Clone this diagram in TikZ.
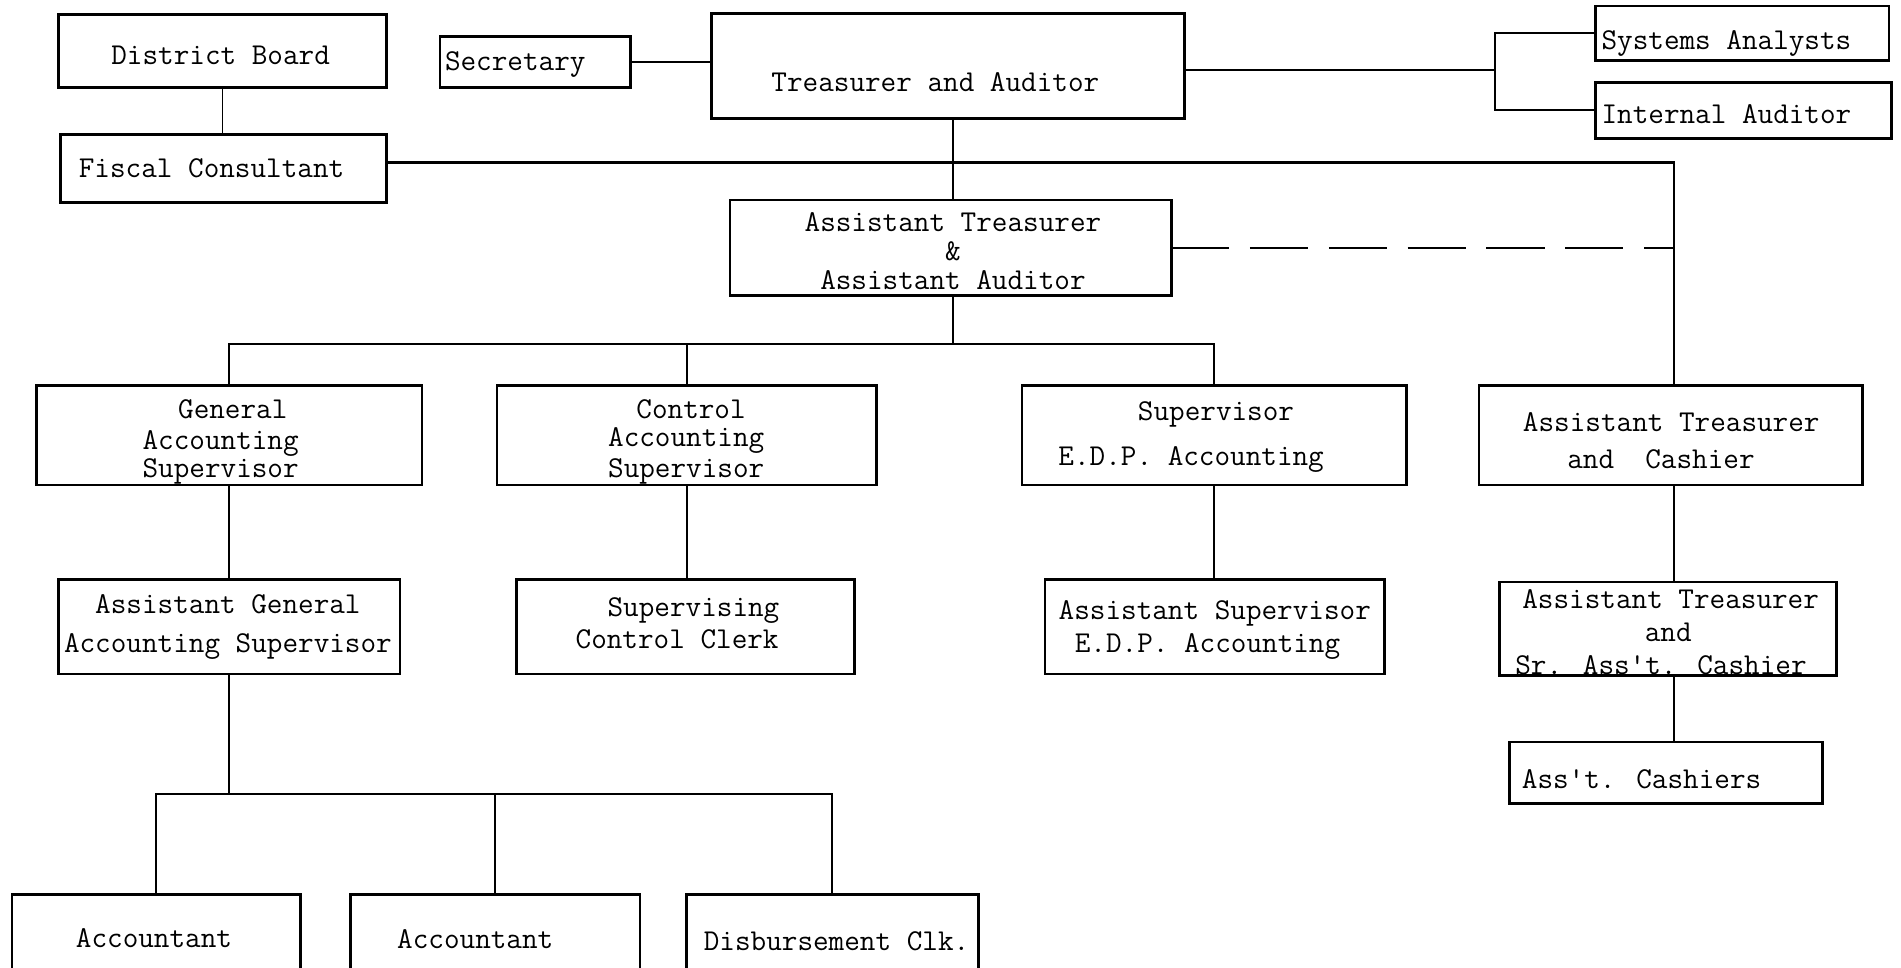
\documentclass[tikz,border=0pt]{standalone}
\begin{document}
\begin{tikzpicture}[x=1pt,y=-1pt,
  box/.style={draw,line width=2.2pt,inner sep=0pt,outer sep=0pt},
  lbl/.style={anchor=mid,inner sep=0pt,yshift=-6pt,font=\ttfamily\fontsize{25}{30}\selectfont},
  link/.style={line width=1.8pt},
  thin/.style={line width=0.9pt}]
\path[use as bounding box,fill=white] (0,0) rectangle (1568,798);
\clip (0,0) rectangle (1568,798);

% boxes
\node[box,minimum width=271pt,minimum height=60pt] (db)   at (183.5,42)   {};
\node[box,minimum width=269pt,minimum height=56pt] (fc)   at (184.5,139)  {};
\node[box,minimum width=157pt,minimum height=42pt] (sec)  at (441.5,51)   {};
\node[box,minimum width=390pt,minimum height=87pt] (tr)   at (782,54.5)   {};
\node[box,minimum width=242pt,minimum height=45pt] (sa)   at (1437,27.5)  {};
\node[box,minimum width=244pt,minimum height=46pt] (ia)   at (1438,91)    {};
\node[box,minimum width=364pt,minimum height=79pt] (ataa) at (784,204.5)  {};
\node[box,minimum width=318pt,minimum height=82pt] (gas)  at (189,359)    {};
\node[box,minimum width=313pt,minimum height=82pt] (cas)  at (566.5,359)  {};
\node[box,minimum width=317pt,minimum height=82pt] (edp)  at (1001.5,359) {};
\node[box,minimum width=316pt,minimum height=82pt] (atc)  at (1378,359)   {};
\node[box,minimum width=282pt,minimum height=78pt] (agas) at (189,517)    {};
\node[box,minimum width=279pt,minimum height=78pt] (scc)  at (565.5,517)  {};
\node[box,minimum width=280pt,minimum height=78pt] (asedp) at (1002,517)  {};
\node[box,minimum width=278pt,minimum height=77pt] (atsac) at (1376,518.5) {};
\node[box,minimum width=258pt,minimum height=51pt] (ac)   at (1374,637.5) {};
\node[box,minimum width=238pt,minimum height=92pt] (acc1) at (129,784)    {};
\node[box,minimum width=239pt,minimum height=92pt] (acc2) at (408.5,784)  {};
\node[box,minimum width=241pt,minimum height=92pt] (dis)  at (686.5,784)  {};

% labels
\node[lbl] (t-db)  at (182,45)   {District Board};
\node[lbl] (t-fc)  at (174.5,138) {Fiscal Consultant};
\node[lbl] (t-sec) at (425,50)   {Secretary};
\node[lbl] (t-tr)  at (771.5,67) {Treasurer and Auditor};
\node[lbl] (t-sa)  at (1424,33)  {Systems Analysts};
\node[lbl] (t-ia)  at (1424,94)  {Internal Auditor};
\node[lbl] (t-ataa1) at (786,183) {Assistant Treasurer};
\node[lbl] (t-ataa2) at (786,207) {\&};
\node[lbl] (t-ataa3) at (786,231) {Assistant Auditor};
\node[lbl] (t-gas1) at (192,337) {General};
\node[lbl] (t-gas2) at (182,363) {Accounting};
\node[lbl] (t-gas3) at (182,386) {Supervisor};
\node[lbl] (t-cas1) at (570,337) {Control};
\node[lbl] (t-cas2) at (566,360) {Accounting};
\node[lbl] (t-cas3) at (566,386) {Supervisor};
\node[lbl] (t-edp1) at (1003,339) {Supervisor};
\node[lbl] (t-edp2) at (982.5,376) {E.D.P. Accounting};
\node[lbl] (t-atc1) at (1378.5,348) {Assistant Treasurer};
\node[lbl] (t-atc2) at (1370,378) {and\ \ Cashier};
\node[lbl] (t-agas1) at (188,498) {Assistant General};
\node[lbl] (t-agas2) at (188,530) {Accounting Supervisor};
\node[lbl] (t-scc1) at (572,500) {Supervising};
\node[lbl] (t-scc2) at (558.5,527) {Control Clerk};
\node[lbl] (t-asedp1) at (1002,503) {Assistant Supervisor};
\node[lbl] (t-asedp2) at (996,530) {E.D.P. Accounting};
\node[lbl] (t-atsac1) at (1378,494) {Assistant Treasurer};
\node[lbl] (t-atsac2) at (1376,521) {and};
\node[lbl] (t-atsac3) at (1370,548) {Sr. Ass't. Cashier};
\node[lbl] (t-ac)   at (1354,642) {Ass't. Cashiers};
\node[lbl] (t-acc1) at (127,773) {Accountant};
\node[lbl] (t-acc2) at (392,774) {Accountant};
\node[lbl] (t-dis)  at (690,776) {Disbursement Clk.};

% junction points of the connector lines
\coordinate (trj) at (1233,58);
\coordinate (fcj) at (1381,134);
\coordinate (b1)  at (786,284);
\coordinate (b2)  at (190,655);

% connectors
\draw[thin] (db.south) -- (db.south |- fc.north);
\draw[link] (sec.east) -- (sec.east -| tr.west);
\draw[link] (tr.east |- trj) -- (trj);
\draw[link] (sa.west) -| (trj) |- (ia.west);
\draw[link] (b1 |- tr.south) -- (b1 |- ataa.north);
\draw[link] (fc.east |- fcj) -- (fcj) -- (fcj |- atc.north);
\draw[link,dash pattern=on 48pt off 17pt] (ataa.east) -- (ataa.east -| fcj);
\draw[link] (b1 |- ataa.south) -- (b1);
\draw[link] (gas.north) -- (gas.north |- b1) -- (edp.north |- b1) -- (edp.north);
\draw[link] (cas.north) -- (cas.north |- b1);
\draw[link] (gas.south) -- (agas.north);
\draw[link] (cas.south) -- (cas.south |- scc.north);
\draw[link] (edp.south) -- (edp.south |- asedp.north);
\draw[link] (fcj |- atc.south) -- (fcj |- atsac.north);
\draw[link] (fcj |- atsac.south) -- (fcj |- ac.north);
\draw[link] (agas.south) -- (agas.south |- b2);
\draw[link] (acc1.north) -- (acc1.north |- b2) -- (dis.north |- b2) -- (dis.north);
\draw[link] (acc2.north) -- (acc2.north |- b2);
\end{tikzpicture}
\end{document}
